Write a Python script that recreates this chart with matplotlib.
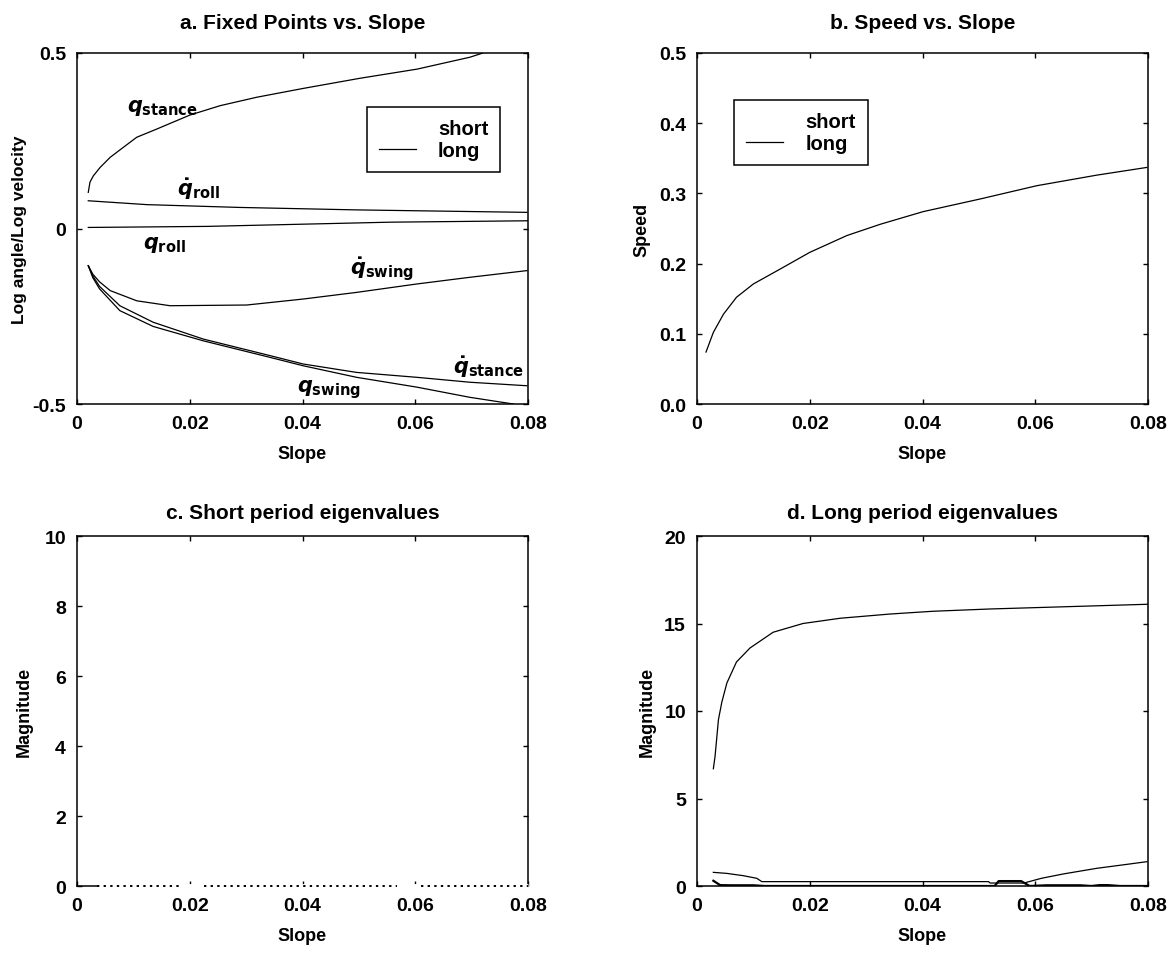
import numpy as np
import matplotlib
matplotlib.use("Agg")
import matplotlib.pyplot as plt
from matplotlib.lines import Line2D

plt.rcParams['font.family'] = ['Liberation Sans', 'DejaVu Sans']
plt.rcParams['font.weight'] = 'bold'
plt.rcParams['mathtext.fontset'] = 'dejavusans'

# ---------------- data ----------------
# a. Fixed points vs slope
qstance_x = [0.0020, 0.0023, 0.0029, 0.0041, 0.0059, 0.0082, 0.0106, 0.0141, 0.0200, 0.0254, 0.0319, 0.0401, 0.0502, 0.0603, 0.0697, 0.0720]
qstance_y = [0.103, 0.132, 0.150, 0.174, 0.203, 0.231, 0.260, 0.283, 0.323, 0.350, 0.374, 0.399, 0.428, 0.454, 0.488, 0.500]

qdroll_x = [0.0020, 0.0124, 0.0289, 0.0496, 0.0798]
qdroll_y = [0.079, 0.068, 0.060, 0.053, 0.046]

qroll_x = [0.0020, 0.0230, 0.0555, 0.0800]
qroll_y = [0.003, 0.006, 0.018, 0.022]

qdswing_x = [0.0020, 0.0028, 0.0040, 0.0059, 0.0106, 0.0165, 0.0301, 0.0401, 0.0496, 0.0603, 0.0697, 0.0798]
qdswing_y = [-0.106, -0.130, -0.152, -0.177, -0.206, -0.220, -0.218, -0.201, -0.182, -0.158, -0.139, -0.120]

qdstance_x = [0.0020, 0.0028, 0.0040, 0.0076, 0.0135, 0.0224, 0.0342, 0.0401, 0.0496, 0.0603, 0.0697, 0.0798]
qdstance_y = [-0.106, -0.135, -0.165, -0.220, -0.267, -0.315, -0.362, -0.386, -0.410, -0.424, -0.438, -0.448]

qswing_x = [0.0020, 0.0028, 0.0040, 0.0076, 0.0135, 0.0224, 0.0342, 0.0401, 0.0496, 0.0603, 0.0697, 0.0774]
qswing_y = [-0.106, -0.140, -0.172, -0.234, -0.279, -0.320, -0.367, -0.391, -0.424, -0.452, -0.481, -0.500]

# b. Speed vs slope
speed_x = [0.0016, 0.0029, 0.0047, 0.0070, 0.0100, 0.0147, 0.0200, 0.0266, 0.0325, 0.0401, 0.0502, 0.0603, 0.0709, 0.0798]
speed_y = [0.074, 0.102, 0.128, 0.152, 0.171, 0.192, 0.216, 0.240, 0.256, 0.274, 0.292, 0.311, 0.326, 0.337]

# c. Short period eigenvalues (gaps where no fixed point)
short_x = [0.0035, 0.0187, np.nan, 0.0226, 0.0567, np.nan, 0.0610, 0.0800]
short_y = [0.0, 0.0, np.nan, 0.0, 0.0, np.nan, 0.0, 0.0]

# d. Long period eigenvalues
long1_x = [0.0029, 0.0032, 0.0038, 0.0044, 0.0053, 0.0070, 0.0094, 0.0135, 0.0188, 0.0254, 0.0342, 0.0419, 0.0520, 0.0697, 0.0800]
long1_y = [6.7, 7.4, 9.5, 10.5, 11.6, 12.8, 13.6, 14.5, 15.0, 15.3, 15.54, 15.7, 15.83, 16.0, 16.1]

long2_x = [0.0029, 0.0053, 0.0082, 0.0106, 0.0115, 0.0300, 0.0517, 0.0520, 0.0580, 0.0611, 0.0650, 0.0709, 0.0768, 0.0798]
long2_y = [0.78, 0.72, 0.59, 0.44, 0.25, 0.25, 0.25, 0.17, 0.17, 0.44, 0.69, 1.01, 1.26, 1.39]

long3_x = [0.0029, 0.0041, 0.0060, 0.0100, 0.0120, 0.0300, 0.0528, 0.0535, 0.0575, 0.0590, 0.0620, 0.0680, 0.0700, 0.0714, 0.0729, 0.0750, 0.0800]
long3_y = [0.30, 0.05, 0.04, 0.04, 0.0, 0.0, 0.0, 0.28, 0.28, 0.0, 0.04, 0.04, 0.0, 0.05, 0.05, 0.0, 0.0]

xticks = [0, 0.02, 0.04, 0.06, 0.08]
xticklabels = ['0', '0.02', '0.04', '0.06', '0.08']

# ---------------- figure ----------------
fig = plt.figure(figsize=(11.74, 9.54), dpi=100)
W, H = 1174, 954
def box(l, r, t, b):
    return [l / W, 1 - b / H, (r - l) / W, (b - t) / H]

axa = fig.add_axes(box(77, 528, 54, 405))
axb = fig.add_axes(box(697, 1148, 54, 405))
axc = fig.add_axes(box(77, 528, 537, 887))
axd = fig.add_axes(box(697, 1148, 537, 887))

LW = 0.9
TFS = 14
for ax in (axa, axb, axc, axd):
    ax.set_xlim(0, 0.08)
    ax.set_xticks(xticks)
    ax.set_xticklabels(xticklabels)
    ax.tick_params(direction='in', top=True, right=True, length=3.5, width=1.0,
                   labelsize=TFS)
    ax.tick_params(axis='x', pad=8)
    ax.tick_params(axis='y', pad=8)
    for s in ax.spines.values():
        s.set_linewidth(1.1)
    ax.set_xlabel('Slope', fontsize=13, fontweight='bold', labelpad=9)
    for lab in ax.get_xticklabels() + ax.get_yticklabels():
        lab.set_fontweight('bold')

# panel a
axa.plot(qstance_x, qstance_y, color='black', lw=LW)
axa.plot(qdroll_x, qdroll_y, color='black', lw=LW)
axa.plot(qroll_x, qroll_y, color='black', lw=LW)
axa.plot(qdswing_x, qdswing_y, color='black', lw=LW)
axa.plot(qdstance_x, qdstance_y, color='black', lw=LW)
axa.plot(qswing_x, qswing_y, color='black', lw=LW)
axa.set_ylim(-0.5, 0.5)
axa.set_yticks([-0.5, 0, 0.5])
axa.set_yticklabels(['-0.5', '0', '0.5'], fontweight='bold')
axa.set_ylabel('Log angle/Log velocity', fontsize=12.5, fontweight='bold', labelpad=4)
axa.set_title('a. Fixed Points vs. Slope', fontsize=15, fontweight='bold', pad=18)

lfs = 15
axa.text(0.0089, 0.346, r'$q_{\mathbf{stance}}$', fontsize=lfs, ha='left', va='center')
axa.text(0.0177, 0.113, r'$\dot{q}_{\mathbf{roll}}$', fontsize=lfs, ha='left', va='center')
axa.text(0.0117, -0.044, r'$q_{\mathbf{roll}}$', fontsize=lfs, ha='left', va='center')
axa.text(0.0484, -0.115, r'$\dot{q}_{\mathbf{swing}}$', fontsize=lfs, ha='left', va='center')
axa.text(0.0667, -0.394, r'$\dot{q}_{\mathbf{stance}}$', fontsize=lfs, ha='left', va='center')
axa.text(0.0390, -0.457, r'$q_{\mathbf{swing}}$', fontsize=lfs, ha='left', va='center')

def add_legend(ax, anchor):
    handles = [Line2D([], [], linestyle='none'),
               Line2D([], [], color='black', lw=LW)]
    leg = ax.legend(handles, ['short', 'long'], loc='upper left', bbox_to_anchor=anchor,
                    borderaxespad=0, fancybox=False, framealpha=1, edgecolor='black',
                    prop={'size': 14.5, 'weight': 'bold'}, handlelength=1.85,
                    handletextpad=1.1, labelspacing=0.15, borderpad=0.6)
    leg.get_frame().set_linewidth(1.1)

add_legend(axa, (0.642, 0.846))

# panel b
axb.plot(speed_x, speed_y, color='black', lw=LW)
axb.set_ylim(0, 0.5)
axb.set_yticks([0, 0.1, 0.2, 0.3, 0.4, 0.5])
axb.set_yticklabels(['0.0', '0.1', '0.2', '0.3', '0.4', '0.5'], fontweight='bold')
axb.set_ylabel('Speed', fontsize=13, fontweight='bold', labelpad=6)
axb.set_title('b. Speed vs. Slope', fontsize=15, fontweight='bold', pad=18)
add_legend(axb, (0.082, 0.866))

# panel c
sx0, sx1 = np.nanmin(short_x), np.nanmax(short_x)
axc.plot([sx0, sx1], [0, 0], color='white', lw=3.5, solid_capstyle='butt', clip_on=False, zorder=3)
axc.plot(short_x, short_y, color='black', lw=1.4, linestyle=(0, (1.2, 2.2)), clip_on=False, zorder=4)
axc.set_ylim(0, 10)
axc.set_yticks([0, 2, 4, 6, 8, 10])
axc.set_yticklabels(['0', '2', '4', '6', '8', '10'], fontweight='bold')
axc.set_ylabel('Magnitude', fontsize=13, fontweight='bold', labelpad=8)
axc.set_title('c. Short period eigenvalues', fontsize=15, fontweight='bold', pad=13)

# panel d
axd.plot(long1_x, long1_y, color='black', lw=LW)
axd.plot(long2_x, long2_y, color='black', lw=LW)
axd.plot(long3_x, long3_y, color='black', lw=1.6)
axd.set_ylim(0, 20)
axd.set_yticks([0, 5, 10, 15, 20])
axd.set_yticklabels(['0', '5', '10', '15', '20'], fontweight='bold')
axd.set_ylabel('Magnitude', fontsize=13, fontweight='bold', labelpad=6)
axd.set_title('d. Long period eigenvalues', fontsize=15, fontweight='bold', pad=13)

fig.savefig('out.png', dpi=100)
